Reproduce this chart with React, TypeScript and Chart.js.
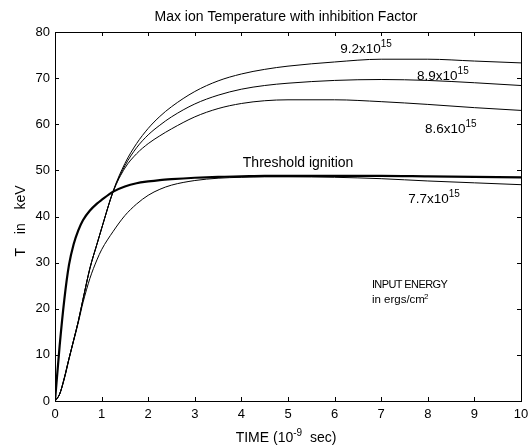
import React, { useEffect, useRef } from "react";
import { Chart, registerables } from "chart.js";

Chart.register(...registerables);

// ---- data ----
const time = [0, 0.1, 0.2, 0.3, 0.4, 0.5, 0.6, 0.75, 0.9, 1.0, 1.25, 1.5, 1.75, 2, 2.25, 2.5, 3, 3.5, 4, 4.5, 5, 6, 7, 8, 9, 10];

const thresholdIgnition = [0, 12, 22, 29.5, 34, 37, 39.2, 41.3, 42.8, 43.6, 45.4, 46.5, 47.2, 47.6, 47.9, 48.1, 48.4, 48.6, 48.7, 48.8, 48.8, 48.8, 48.8, 48.7, 48.6, 48.5];
const energy77 = [0, 1.5, 4.8, 9, 13, 17, 21.3, 26.6, 30.6, 32.8, 36.8, 40.2, 42.7, 44.6, 45.9, 46.8, 47.8, 48.3, 48.5, 48.6, 48.6, 48.5, 48.2, 47.7, 47.3, 46.9];
const energy86 = [0, 1.5, 5, 9.2, 13.2, 17.3, 22, 28.8, 34, 37.4, 45.4, 50.5, 53.6, 55.8, 57.5, 59, 61.6, 63.4, 64.5, 65.1, 65.3, 65.3, 64.9, 64.3, 63.6, 63];
const energy89 = [0, 1.5, 5, 9.2, 13.2, 17.3, 22, 28.8, 34, 37.4, 45.5, 51, 54.9, 57.7, 59.8, 61.6, 64.4, 66.3, 67.6, 68.4, 68.9, 69.5, 69.7, 69.5, 69, 68.4];
const energy92 = [0, 1.5, 5, 9.2, 13.2, 17.3, 22, 28.8, 34, 37.4, 45.6, 51.5, 55.8, 59.1, 61.7, 63.8, 67.1, 69.4, 70.9, 71.9, 72.6, 73.5, 74.1, 74.1, 73.7, 73.3];

const xTicks = [0, 1, 2, 3, 4, 5, 6, 7, 8, 9, 10];
const yTicks = [0, 10, 20, 30, 40, 50, 60, 70, 80];

const titleText = "Max ion Temperature with inhibition Factor";
const xTitleMain = "TIME (10";
const xTitleSup = "-9";
const xTitleEnd = "  sec)";
const yTitle = "T  in  keV";

const curveLabels = ["9.2x10", "8.9x10", "8.6x10", "Threshold ignition", "7.7x10"];
const curveLabelSups = ["15", "15", "15", "", "15"];
const curveLabelX = [6.12, 7.77, 7.94, 4.03, 7.58];
const curveLabelY = [75.4, 69.6, 58.2, 50.8, 42.9];

const noteLines = ["INPUT ENERGY", "in ergs/cm"];
const noteSups = ["", "2"];
const noteX = [6.8, 6.8];
const noteY = [24.6, 21.3];

const FONT = "'Liberation Sans', Arial, Helvetica, sans-serif";

const toPoints = (vals: number[]) => time.map((t, i) => ({ x: t, y: vals[i] }));

const decorPlugin = {
  id: "decor",
  afterDraw(chart: any) {
    const { ctx, chartArea } = chart;
    const xs = chart.scales.x;
    const ys = chart.scales.y;
    const { left, right, top, bottom } = chartArea;
    ctx.save();
    // frame
    ctx.strokeStyle = "#000";
    ctx.lineWidth = 1;
    ctx.strokeRect(left + 0.5, top + 0.5, right - left, bottom - top);
    // inward ticks
    const tl = 4;
    ctx.beginPath();
    xs.ticks.forEach((t: any) => {
      const px = Math.round(xs.getPixelForValue(t.value)) + 0.5;
      ctx.moveTo(px, bottom);
      ctx.lineTo(px, bottom - tl);
      ctx.moveTo(px, top);
      ctx.lineTo(px, top + tl);
    });
    ys.ticks.forEach((t: any) => {
      const py = Math.round(ys.getPixelForValue(t.value)) + 0.5;
      ctx.moveTo(left, py);
      ctx.lineTo(left + tl, py);
      ctx.moveTo(right, py);
      ctx.lineTo(right - tl, py);
    });
    ctx.stroke();

    ctx.fillStyle = "#000";
    ctx.textBaseline = "alphabetic";

    // title
    ctx.font = `14px ${FONT}`;
    ctx.textAlign = "center";
    ctx.fillText(titleText, 286, 20.5);

    // x title with superscript
    const cx = 286;
    ctx.textAlign = "left";
    ctx.font = `14px ${FONT}`;
    const w1 = ctx.measureText(xTitleMain).width;
    const w3 = ctx.measureText(xTitleEnd).width;
    ctx.font = `10px ${FONT}`;
    const w2 = ctx.measureText(xTitleSup).width;
    const sx = cx - (w1 + w2 + w3) / 2;
    ctx.font = `14px ${FONT}`;
    ctx.fillText(xTitleMain, sx, 441.5);
    ctx.font = `10px ${FONT}`;
    ctx.fillText(xTitleSup, sx + w1, 435.5);
    ctx.font = `14px ${FONT}`;
    ctx.fillText(xTitleEnd, sx + w1 + w2, 441.5);

    // y title
    ctx.save();
    ctx.translate(25, 221);
    ctx.rotate(-Math.PI / 2);
    ctx.textAlign = "center";
    ctx.font = `14px ${FONT}`;
    (ctx as any).wordSpacing = "3px";
    ctx.fillText(yTitle, 0, 0);
    (ctx as any).wordSpacing = "0px";
    ctx.restore();

    // curve labels
    curveLabels.forEach((txt, i) => {
      const px = xs.getPixelForValue(curveLabelX[i]);
      const py = ys.getPixelForValue(curveLabelY[i]);
      ctx.textAlign = "left";
      ctx.font = curveLabelSups[i] ? `13.5px ${FONT}` : `14px ${FONT}`;
      ctx.fillText(txt, px, py);
      if (curveLabelSups[i]) {
        const w = ctx.measureText(txt).width;
        ctx.font = `10px ${FONT}`;
        ctx.fillText(curveLabelSups[i], px + w, py - 6);
      }
    });

    // input energy note
    noteLines.forEach((txt, i) => {
      const px = xs.getPixelForValue(noteX[i]);
      const py = ys.getPixelForValue(noteY[i]);
      ctx.textAlign = "left";
      if (i === 0) {
        ctx.font = `11px ${FONT}`;
        (ctx as any).letterSpacing = "-0.6px";
      } else {
        ctx.font = `11.5px ${FONT}`;
        (ctx as any).letterSpacing = "0px";
      }
      ctx.fillText(txt, px, py);
      const w = ctx.measureText(txt).width;
      if (noteSups[i]) {
        ctx.font = `8px ${FONT}`;
        ctx.fillText(noteSups[i], px + w - 1, py - 4);
      }
      (ctx as any).letterSpacing = "0px";
    });
    ctx.restore();
  },
};

export default function App() {
  const ref = useRef<HTMLCanvasElement | null>(null);

  useEffect(() => {
    document.body.style.margin = "0";
    const canvas = ref.current;
    if (!canvas) return;
    const thin = { borderColor: "#000", borderWidth: 1, pointRadius: 0, cubicInterpolationMode: "monotone" as const, fill: false };
    const chart = new Chart(canvas, {
      type: "line",
      data: {
        datasets: [
          { label: "9.2x10^15", data: toPoints(energy92), ...thin },
          { label: "8.9x10^15", data: toPoints(energy89), ...thin },
          { label: "8.6x10^15", data: toPoints(energy86), ...thin },
          { label: "7.7x10^15", data: toPoints(energy77), ...thin },
          { label: "Threshold ignition", data: toPoints(thresholdIgnition), ...thin, borderWidth: 2.2 },
        ],
      },
      options: {
        responsive: false,
        animation: false,
        devicePixelRatio: 1,
        layout: { padding: { left: 0, right: 7, top: 32, bottom: 0 } },
        plugins: { legend: { display: false }, title: { display: false }, tooltip: { enabled: false } },
        scales: {
          x: {
            type: "linear",
            min: 0,
            max: 10,
            afterBuildTicks: (s: any) => { s.ticks = xTicks.map((v) => ({ value: v })); },
            afterFit: (s: any) => { s.height = 47; s.paddingLeft = 0; s.paddingRight = 0; },
            grid: { display: false, drawTicks: false },
            border: { display: false },
            ticks: { color: "#000", font: { family: FONT, size: 13 }, padding: 6, maxRotation: 0, autoSkip: false },
          },
          y: {
            type: "linear",
            min: 0,
            max: 80,
            afterBuildTicks: (s: any) => { s.ticks = yTicks.map((v) => ({ value: v })); },
            afterFit: (s: any) => { s.width = 55; s.paddingTop = 0; s.paddingBottom = 0; },
            grid: { display: false, drawTicks: false },
            border: { display: false },
            ticks: { color: "#000", font: { family: FONT, size: 13 }, padding: 5, autoSkip: false },
          },
        },
      },
      plugins: [decorPlugin],
    });
    return () => chart.destroy();
  }, []);

  return (
    <div style={{ position: "absolute", left: 0, top: 0, width: 528, height: 448, background: "#fff" }}>
      <canvas ref={ref} width={528} height={448} style={{ display: "block", width: 528, height: 448 }} />
    </div>
  );
}
